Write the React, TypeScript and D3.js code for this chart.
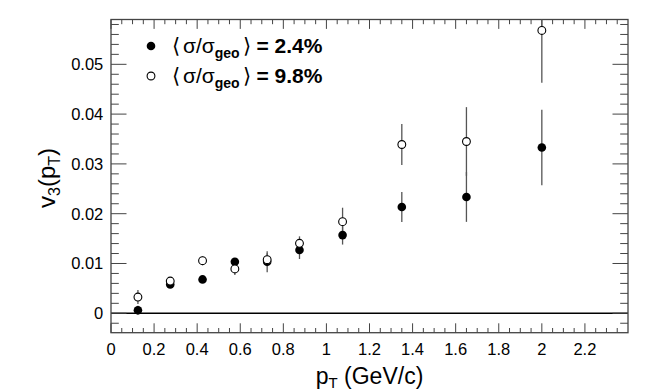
import React from "react";
import * as d3 from "d3";

const ptValues = [0.125, 0.275, 0.425, 0.575, 0.725, 0.875, 1.075, 1.35, 1.65, 2.0];
const v3Low = [0.0006, 0.0058, 0.0068, 0.01036, 0.01036, 0.0127, 0.0157, 0.02135, 0.02336, 0.0333];
const v3LowErr = [0.0009, 0.0004, 0.0004, 0.0005, 0.0021, 0.0018, 0.0019, 0.003, 0.005, 0.0076];
const v3High = [0.00326, 0.00647, 0.01056, 0.0089, 0.01076, 0.01405, 0.0184, 0.0339, 0.0345, 0.0568];
const v3HighErr = [0.0014, 0.0005, 0.0009, 0.0012, 0.0013, 0.0014, 0.0028, 0.0041, 0.0069, 0.0105];
const legendLabels = ["2.4%", "9.8%"];
const xTickLabels = ["0", "0.2", "0.4", "0.6", "0.8", "1", "1.2", "1.4", "1.6", "1.8", "2", "2.2"];
const yTickLabels = ["0", "0.01", "0.02", "0.03", "0.04", "0.05"];

const W = 654;
const H = 392;
const L = 111, R = 628, T = 19.5, B = 332.7;
const FONT = "'Liberation Sans', Arial, Helvetica, sans-serif";

export default function App() {
  const x = d3.scaleLinear().domain([0, 2.4]).range([L, R]);
  const y = d3.scaleLinear().domain([-0.0039, 0.059]).range([B, T]);

  const xMinor = d3.range(0, 49).map((i) => i * 0.05).filter((v, i) => i % 4 !== 0 && v <= 2.4);
  const xMajor = xTickLabels.map((s) => +s);
  const yMinor = d3.range(-1, 30).map((i) => i * 0.002).filter((v, i) => ((i - 1) % 5 + 5) % 5 !== 0 && v <= 0.059 && v >= -0.0039);
  const yMajor = yTickLabels.map((s) => +s);

  const frameColor = "#444";
  const errColor = "#555";

  const series = [
    { vals: v3Low, errs: v3LowErr, filled: true },
    { vals: v3High, errs: v3HighErr, filled: false },
  ];

  const clip = (v: number) => Math.max(T, Math.min(B, v));

  return (
    <svg width={W} height={H} style={{ position: "absolute", left: 0, top: 0 }} fontFamily={FONT}>
      <rect x={0} y={0} width={W} height={H} fill="#fff" />
      {/* zero line */}
      <line x1={L} x2={R} y1={y(0)} y2={y(0)} stroke="#000" strokeWidth={1.5} />
      {/* ticks */}
      <g stroke={frameColor} strokeWidth={1}>
        {xMajor.map((v) => (
          <g key={"xM" + v}>
            <line x1={x(v)} x2={x(v)} y1={B} y2={B - 9.4} />
            <line x1={x(v)} x2={x(v)} y1={T} y2={T + 9.4} />
          </g>
        ))}
        {xMinor.map((v) => (
          <g key={"xm" + v}>
            <line x1={x(v)} x2={x(v)} y1={B} y2={B - 4.7} />
            <line x1={x(v)} x2={x(v)} y1={T} y2={T + 4.7} />
          </g>
        ))}
        {yMajor.map((v) => (
          <g key={"yM" + v}>
            <line x1={L} x2={L + 15.5} y1={y(v)} y2={y(v)} />
            <line x1={R} x2={R - 15.5} y1={y(v)} y2={y(v)} />
          </g>
        ))}
        {yMinor.map((v) => (
          <g key={"ym" + v}>
            <line x1={L} x2={L + 7.8} y1={y(v)} y2={y(v)} />
            <line x1={R} x2={R - 7.8} y1={y(v)} y2={y(v)} />
          </g>
        ))}
      </g>
      <rect x={L} y={T} width={R - L} height={B - T} fill="none" stroke={frameColor} strokeWidth={1.3} />
      {/* tick labels */}
      {xTickLabels.map((s) => (
        <text key={"xl" + s} x={x(+s)} y={355} fontSize={16.5} textAnchor="middle" fill="#000">
          {s}
        </text>
      ))}
      {yTickLabels.map((s) => (
        <text key={"yl" + s} x={103.3} y={y(+s) + 6} fontSize={16.5} textAnchor="end" fill="#000">
          {s}
        </text>
      ))}
      {/* axis titles */}
      <text x={(L + R) / 2} y={384} fontSize={23} textAnchor="middle" fill="#000">
        <tspan>p</tspan>
        <tspan fontSize={15} dy={4}>T</tspan>
        <tspan dy={-4}> (GeV/c)</tspan>
      </text>
      <text transform={`translate(55,${178}) rotate(-90)`} fontSize={24} textAnchor="middle" fill="#000">
        <tspan>v</tspan>
        <tspan fontSize={16} dy={5}>3</tspan>
        <tspan dy={-5}>(p</tspan>
        <tspan fontSize={16} dy={5}>T</tspan>
        <tspan dy={-5}>)</tspan>
      </text>
      {/* data */}
      {series.map((s, si) => (
        <g key={"s" + si}>
          {ptValues.map((pt, i) => (
            <line
              key={"e" + i}
              x1={x(pt)}
              x2={x(pt)}
              y1={clip(y(s.vals[i] + s.errs[i]))}
              y2={clip(y(s.vals[i] - s.errs[i]))}
              stroke={errColor}
              strokeWidth={1.3}
            />
          ))}
        </g>
      ))}
      {series.map((s, si) => (
        <g key={"m" + si}>
          {ptValues.map((pt, i) => (
            <circle
              key={"c" + i}
              cx={x(pt)}
              cy={y(s.vals[i])}
              r={s.filled ? 4.3 : 3.9}
              fill={s.filled ? "#000" : "#fff"}
              stroke="#000"
              strokeWidth={s.filled ? 0 : 1.1}
            />
          ))}
        </g>
      ))}
      {/* legend */}
      {legendLabels.map((lab, i) => (
        <g key={"lg" + i}>
          <circle
            cx={151}
            cy={46 + i * 30}
            r={i === 0 ? 4.3 : 3.9}
            fill={i === 0 ? "#000" : "#fff"}
            stroke="#000"
            strokeWidth={i === 0 ? 0 : 1.1}
          />
          <text x={172} y={53 + i * 30} fontSize={21} fill="#000">
            <tspan>⟨</tspan>
            <tspan dx={3}>σ/σ</tspan>
            <tspan fontSize={14} fontWeight="bold" dy={5}>geo</tspan>
            <tspan dy={-5} dx={3}>⟩</tspan>
            <tspan fontWeight="bold"> = {lab}</tspan>
          </text>
        </g>
      ))}
    </svg>
  );
}
